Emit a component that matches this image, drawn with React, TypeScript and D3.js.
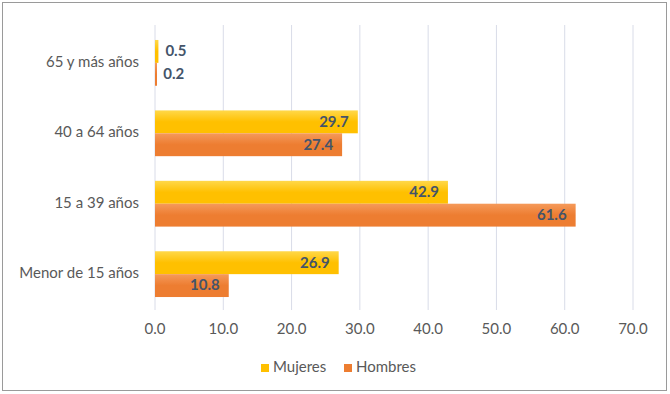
import React from "react";
import * as d3 from "d3";

const categories = ["65 y más años", "40 a 64 años", "15 a 39 años", "Menor de 15 años"];
const mujeres = [0.5, 29.7, 42.9, 26.9];
const hombres = [0.2, 27.4, 61.6, 10.8];
const series = [
  { name: "Mujeres", values: mujeres, color: "#FFC000", light: "#FFD84A" },
  { name: "Hombres", values: hombres, color: "#ED7D31", light: "#F59A5A" },
];
const ticks = [0, 10, 20, 30, 40, 50, 60, 70];

export default function App() {
  const W = 670, H = 394;
  const x = d3.scaleLinear().domain([0, 70]).range([155, 633]);
  const y = d3.scaleBand().domain(categories).range([28, 309]).paddingInner(0.35).paddingOuter(0.17);
  const sub = d3.scaleBand().domain(series.map(s => s.name)).range([0, y.bandwidth()]);
  const font = "Lato, 'Open Sans', sans-serif";
  return (
    <svg width={W} height={H} style={{ position: "absolute", left: 0, top: 0 }} fontFamily={font}>
      <defs>
        {series.map((s, i) => (
          <linearGradient key={i} id={"g" + i} x1="0" y1="0" x2="0" y2="1">
            <stop offset="0" stopColor={s.light} />
            <stop offset="0.5" stopColor={s.color} />
            <stop offset="1" stopColor={s.color} />
          </linearGradient>
        ))}
      </defs>
      <rect x={0} y={0} width={W} height={H} fill="#fff" />
      <rect x={2.5} y={2.5} width={664} height={388} fill="none" stroke="#9a9a9a" strokeWidth={1} />
      {ticks.map(t => (
        <line key={t} x1={x(t)} x2={x(t)} y1={25} y2={310} stroke="#D9DCE8" strokeWidth={1} />
      ))}
      {categories.map((c, ci) => (
        <g key={c}>
          <text x={139} y={(y(c) as number) + y.bandwidth() / 2} textAnchor="end" dominantBaseline="middle" fontSize={15} fill="#595959">{c}</text>
          {series.map((s, si) => {
            const v = s.values[ci];
            const yy = (y(c) as number) + (sub(s.name) as number);
            const w = x(v) - x(0);
            const inside = w > 30;
            return (
              <g key={s.name}>
                <rect x={x(0)} y={yy} width={Math.max(w, 2)} height={sub.bandwidth()} fill={`url(#g${si})`} />
                <text x={inside ? x(v) - 9 : x(v) + 7} y={yy + sub.bandwidth() / 2 + 1} textAnchor={inside ? "end" : "start"} dominantBaseline="middle" fontSize={15} fontWeight="bold" fill="#44546A">{v.toFixed(1)}</text>
              </g>
            );
          })}
        </g>
      ))}
      {ticks.map(t => (
        <text key={t} x={x(t)} y={330} textAnchor="middle" dominantBaseline="middle" fontSize={15} fill="#595959">{t.toFixed(1)}</text>
      ))}
      {series.map((s, i) => {
        const lx = [261, 344][i];
        return (
          <g key={s.name}>
            <rect x={lx} y={364} width={8} height={8} fill={s.color} />
            <text x={lx + 12} y={368.5} dominantBaseline="middle" fontSize={15} fill="#595959">{s.name}</text>
          </g>
        );
      })}
    </svg>
  );
}
